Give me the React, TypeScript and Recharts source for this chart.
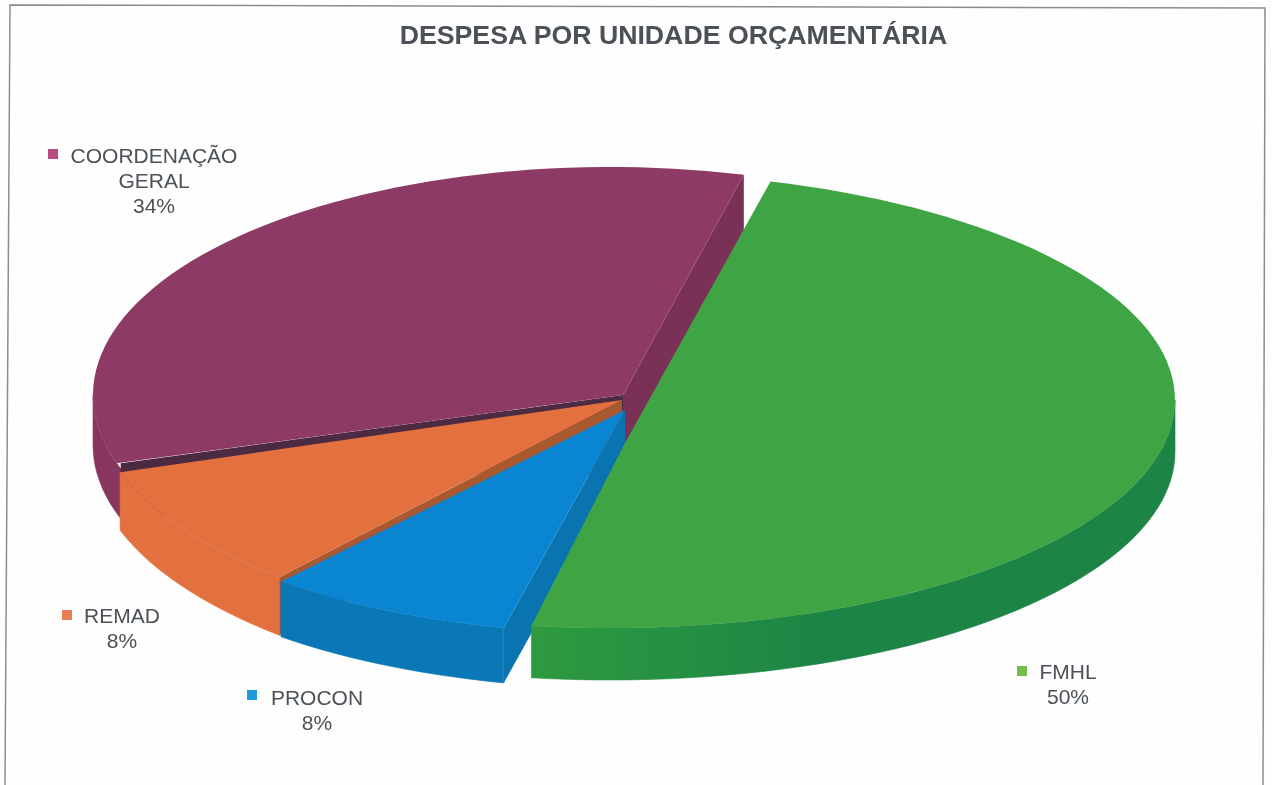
import { Pie, PieChart } from 'recharts'

const TITLE = 'DESPESA POR UNIDADE ORÇAMENTÁRIA'

// drawn back to front, counter-clockwise from the top right
const UNITS = ['COORDENAÇÃO GERAL', 'REMAD', 'PROCON', 'FMHL']
const SHARES = [34, 8, 8, 50]
const LABEL_LINES = [['COORDENAÇÃO', 'GERAL', '34%'], ['REMAD', '8%'], ['PROCON', '8%'], ['FMHL', '50%']]

const TOP_COLORS = ['#8e3a66', '#e3703f', '#0a85d2', '#3fa544']
const WALL_COLORS = ['#86365f', '#e3703f', '#0a77b6', 'url(#greenWall)']
const START_CUT_COLORS = ['#7b3058', 'none', 'none', 'none']
const END_CUT_COLORS = ['#4c2a41', '#a8592f', '#0a74b0', 'none']
const KEY_COLORS = ['#b84c80', '#ee7c52', '#1f9bdc', '#74bf4a']

const PIE_CX = 610
const PIE_CY = 395
const PIE_R = 517

// The picture is a perspective 3D pie with exploded slices, so each slice gets its own ellipse
const ELLIPSES = [
  { dx: 0, dy: 0, rx: 517, ry: 228, depth: 50, cutDepth: 60, cutInset: 4, wallExtra: 3, apexX: 13, apexY: 0, startNudge: 0, endNudge: 0 },
  { dx: 76, dy: 4, rx: 593, ry: 245, depth: 58, cutDepth: 58, cutInset: 0, wallExtra: 0, apexX: 12, apexY: 5, startNudge: 0, endNudge: 0.5 },
  { dx: 22, dy: 47, rx: 512, ry: 192, depth: 55, cutDepth: 55, cutInset: 0, wallExtra: 0, apexX: 15, apexY: 15, startNudge: 0.5, endNudge: 0.5 },
  { dx: 0, dy: 5, rx: 565, ry: 228, depth: 52, cutDepth: 52, cutInset: 0, wallExtra: 0, apexX: 15, apexY: 48, startNudge: 7, endNudge: -1.5 },
]

const LABEL_POS = [
  { cx: 154, y: 163, keyX: 48, keyY: 149 },
  { cx: 122, y: 623, keyX: 62, keyY: 610 },
  { cx: 317, y: 705, keyX: 247, keyY: 690 },
  { cx: 1068, y: 679, keyX: 1017, keyY: 666 },
]

const chartData = UNITS.map((name, i) => ({ name, value: SHARES[i] }))

const FONT = '"Liberation Sans", Arial, sans-serif'
const TEXT_COLOR = '#4b5156'

function arcPoints(cx: number, cy: number, rx: number, ry: number, from: number, to: number) {
  const steps = Math.max(2, Math.ceil(Math.abs(to - from) / 2))
  const pts: string[] = []
  for (let i = 0; i <= steps; i++) {
    const a = ((from + ((to - from) * i) / steps) * Math.PI) / 180
    pts.push(`${(cx + rx * Math.cos(a)).toFixed(1)} ${(cy - ry * Math.sin(a)).toFixed(1)}`)
  }
  return pts
}

function Slice3D(props: any) {
  const i: number = props.index
  const e = ELLIPSES[i]
  const cx = props.cx + e.dx
  const cy = props.cy + e.dy
  const ax = props.cx + e.apexX
  const ay = props.cy + e.apexY
  const start = props.startAngle + e.startNudge
  const end = props.endAngle + e.endNudge
  const top = arcPoints(cx, cy, e.rx, e.ry, start, end)

  // outer wall only shows on the front half of the ellipse
  const wallFrom = Math.max(start, 180)
  const wallTo = Math.min(end + e.wallExtra, 360)
  const wallTop = arcPoints(cx, cy, e.rx, e.ry, wallFrom, wallTo)
  const wallBottom = arcPoints(cx, cy + e.depth, e.rx, e.ry, wallTo, wallFrom)

  const [fx, fy] = top[0].split(' ').map(Number)
  const [lx, ly] = top[top.length - 1].split(' ').map(Number)
  const endX = lx + e.cutInset

  return (
    <g>
      <defs>
        <linearGradient id="greenWall" gradientUnits="userSpaceOnUse" x1={530} y1={0} x2={820} y2={0}>
          <stop offset="0" stopColor="#2f9a40" />
          <stop offset="1" stopColor="#1c8546" />
        </linearGradient>
      </defs>
      {/* inner cut faces */}
      <path
        d={`M${fx} ${fy}L${fx} ${fy + e.cutDepth}L${ax} ${ay + e.cutDepth}L${ax} ${ay}Z`}
        fill={START_CUT_COLORS[i]}
      />
      <path
        d={`M${wallTop.join('L')}L${wallBottom.join('L')}Z`}
        fill={WALL_COLORS[i]}
        stroke={WALL_COLORS[i]}
        strokeWidth={0.6}
      />
      <path
        d={`M${endX} ${ly}L${endX} ${ly + e.cutDepth}L${ax} ${ay + e.cutDepth}L${ax} ${ay}Z`}
        fill={END_CUT_COLORS[i]}
      />
      <path d={`M${ax} ${ay}L${top.join('L')}Z`} fill={TOP_COLORS[i]} />
    </g>
  )
}

function SliceLabel(props: any) {
  const i: number = props.index
  const pos = LABEL_POS[i]
  return (
    <g>
      <rect x={pos.keyX} y={pos.keyY} width={10} height={10} fill={KEY_COLORS[i]} />
      {LABEL_LINES[i].map((line, n) => (
        <text
          key={line}
          x={pos.cx}
          y={pos.y + n * 25}
          textAnchor="middle"
          fontFamily={FONT}
          fontSize={21}
          fill={TEXT_COLOR}
        >
          {line}
        </text>
      ))}
    </g>
  )
}

export default function App() {
  return (
    <div
      style={{
        position: 'absolute',
        left: 0,
        top: 0,
        width: 1272,
        height: 785,
        background: '#fefefe',
        filter: 'blur(0.5px)',
      }}
    >
      <svg width={1272} height={785} style={{ position: 'absolute', left: 0, top: 0 }}>
        <polyline points="5,785 10,5 1265,8 1263,785" fill="none" stroke="#8a8d8f" strokeWidth={1.5} />
        <text
          x={673.5}
          y={44}
          textAnchor="middle"
          fontFamily={FONT}
          fontWeight="bold"
          fontSize={26.7}
          fill={TEXT_COLOR}
        >
          {TITLE}
        </text>
      </svg>
      <div style={{ position: 'absolute', left: 0, top: 0 }}>
        <PieChart width={1272} height={785} margin={{ top: 0, right: 0, bottom: 0, left: 0 }}>
          <Pie
            data={chartData}
            dataKey="value"
            nameKey="name"
            cx={PIE_CX}
            cy={PIE_CY}
            outerRadius={PIE_R}
            startAngle={75}
            endAngle={435}
            paddingAngle={0}
            stroke="none"
            shape={Slice3D}
            label={SliceLabel}
            labelLine={false}
            isAnimationActive={false}
          />
        </PieChart>
      </div>
    </div>
  )
}
